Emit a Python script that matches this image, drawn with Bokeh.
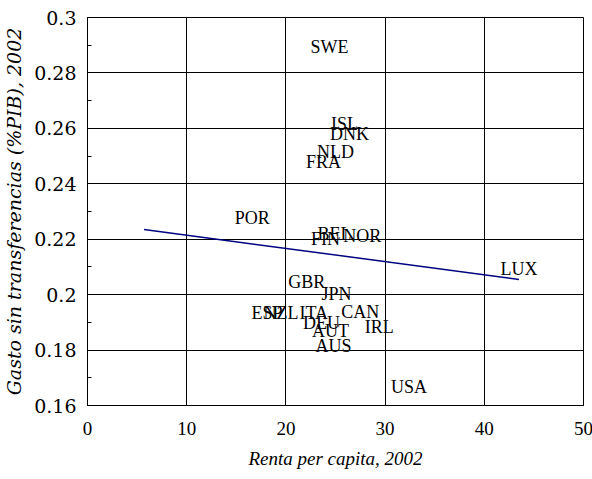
from bokeh.plotting import figure
from bokeh.models import Range1d, SingleIntervalTicker, CustomJSTickFormatter, ColumnDataSource
from bokeh.core.properties import value
from bokeh.embed import file_html
from bokeh.resources import INLINE

countries = ["SWE", "ISL", "DNK", "NLD", "FRA", "POR", "BEL", "FIN", "NOR", "LUX",
             "GBR", "JPN", "CAN", "ESP", "NZL", "ITA", "DEU", "AUT", "AUS", "IRL", "USA"]
renta = [24.4, 25.9, 26.4, 25.0, 23.8, 16.6, 24.9, 24.0, 27.7, 43.5,
         22.1, 25.1, 27.5, 18.1, 19.5, 22.8, 23.6, 24.5, 24.8, 29.4, 32.4]
gasto = [0.2892, 0.2617, 0.2581, 0.2516, 0.2480, 0.2278, 0.2220, 0.2199, 0.2210, 0.2094,
         0.2047, 0.2004, 0.1939, 0.1935, 0.1935, 0.1935, 0.1899, 0.1870, 0.1816, 0.1885, 0.1665]

fit_x = [5.7, 43.5]
fit_y = [0.2235, 0.2055]

FONT = "'Liberation Serif'"
XFONT = "serif"
YFONT = "DejaVu Serif"

p = figure(frame_width=496, frame_height=388, width=592, height=478,
           min_border_left=86, min_border_right=10, min_border_top=17, min_border_bottom=60,
           x_range=Range1d(0, 50), y_range=Range1d(0.16, 0.3),
           output_backend="svg", toolbar_location=None,
           background_fill_color="white", border_fill_color="white")

p.outline_line_color = "black"
p.outline_line_width = 1
p.outline_line_alpha = 1

p.xaxis.ticker = SingleIntervalTicker(interval=10, num_minor_ticks=0)
p.yaxis.ticker = SingleIntervalTicker(interval=0.02, num_minor_ticks=2)
p.yaxis.formatter = CustomJSTickFormatter(code="""
    var s = tick.toFixed(2);
    s = s.replace(/0+$/, '').replace(/\\.$/, '');
    return s;
""")

p.xaxis.major_label_text_font = XFONT
p.xaxis.axis_label_text_font = XFONT
p.yaxis.major_label_text_font = YFONT
p.yaxis.axis_label_text_font = YFONT

for ax in (p.xaxis[0], p.yaxis[0]):
    ax.axis_line_color = "black"
    ax.major_tick_in = 5
    ax.major_tick_out = 0
    ax.minor_tick_in = 4
    ax.minor_tick_out = 0
    ax.major_tick_line_color = "black"
    ax.minor_tick_line_color = "black"
    ax.major_label_text_font_size = "19px"
    ax.major_label_text_color = "black"
    ax.axis_label_text_font_size = "19px"
    ax.axis_label_text_font_style = "italic"
    ax.axis_label_text_color = "black"

p.xaxis.major_label_standoff = 16
p.yaxis.major_label_standoff = 11
p.xaxis.axis_label = "Renta per capita, 2002"
p.yaxis.axis_label = "Gasto sin transferencias (%PIB), 2002"
p.xaxis.axis_label_standoff = 10
p.yaxis.axis_label_standoff = 6

p.xgrid.ticker = SingleIntervalTicker(interval=10)
p.ygrid.ticker = SingleIntervalTicker(interval=0.02)
for g in (p.xgrid[0], p.ygrid[0]):
    g.grid_line_color = "black"
    g.grid_line_width = 1
    g.grid_line_alpha = 1

src = ColumnDataSource(dict(x=renta, y=gasto, t=countries))
p.text(x="x", y="y", text="t", source=src, text_align="center", text_baseline="middle",
       text_font=value(FONT), text_font_size="18px", text_color="black")

p.line(fit_x, fit_y, line_color="#000080", line_width=1.5)

open("out.html", "w").write(file_html(p, INLINE))
